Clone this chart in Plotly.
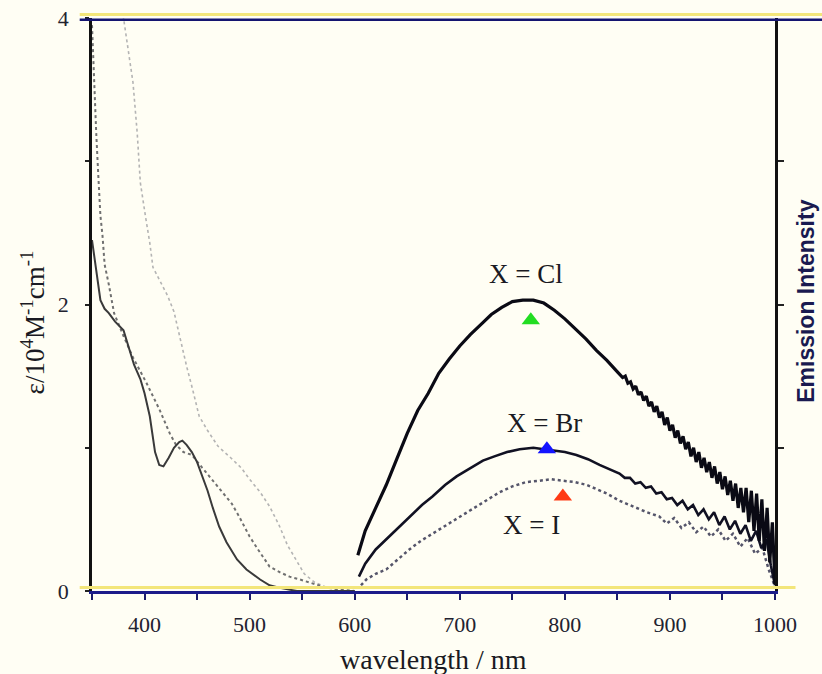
import plotly.graph_objects as go

# ---------------- data ----------------
# Absorption spectra (left axis, epsilon / 10^4 M^-1 cm^-1)
abs_solid_wl = [350, 353, 356, 358, 362, 366, 372, 380, 385, 390, 396, 400, 405, 410, 414, 418, 423, 428,
                433, 436, 440, 445, 450, 455, 460, 465, 471, 478, 488, 497, 510, 519, 530, 545, 600]
abs_solid_eps = [2.45, 2.30, 2.12, 2.03, 1.97, 1.94, 1.88, 1.82, 1.70, 1.58, 1.48, 1.38, 1.22, 0.97, 0.88, 0.87,
                 0.93, 1.00, 1.04, 1.05, 1.02, 0.97, 0.90, 0.80, 0.70, 0.58, 0.45, 0.34, 0.22, 0.15, 0.08, 0.04,
                 0.02, 0.0, 0.0]

abs_mid_wl = [350, 352, 354, 356, 358, 360, 362, 366, 371, 380, 389, 402, 414, 424, 430, 437, 445, 455, 465,
              473, 483, 490, 500, 508, 519, 529, 538, 548, 557, 570, 585, 600]
abs_mid_eps = [3.95, 3.55, 3.20, 2.90, 2.62, 2.48, 2.28, 2.14, 1.94, 1.78, 1.63, 1.45, 1.27, 1.10, 1.02, 0.97,
               0.95, 0.86, 0.77, 0.70, 0.61, 0.52, 0.38, 0.29, 0.17, 0.13, 0.10, 0.08, 0.06, 0.03, 0.01, 0.0]

abs_faint_wl = [378, 383, 386, 389, 393, 396, 401, 405, 408, 414, 422, 428, 434, 440, 446, 452, 460, 470, 482,
                492, 500, 510, 519, 528, 536, 545, 552, 562, 575, 590, 600]
abs_faint_eps = [4.10, 3.85, 3.72, 3.55, 3.20, 2.85, 2.61, 2.43, 2.26, 2.17, 2.06, 1.95, 1.75, 1.57, 1.40, 1.22,
                 1.12, 1.01, 0.93, 0.86, 0.78, 0.69, 0.59, 0.46, 0.32, 0.21, 0.12, 0.06, 0.02, 0.0, 0.0]

# Emission spectra (right axis, arbitrary units)
em_cl_wl = [603, 610, 620, 630, 640, 650, 660, 670, 680, 690, 700, 710, 720, 730, 740, 750, 760, 770, 780,
            790, 800, 810, 820, 830, 840, 850, 852.5, 855, 857.5, 860, 862.5, 865, 867.5, 870, 872.5, 875,
            877.5, 880, 882.5, 885, 887.5, 890, 892.5, 895, 897.5, 900, 902.5, 905, 907.5, 910, 912.5, 915,
            917.5, 920, 922.5, 925, 927.5, 930, 932.5, 935, 937.5, 940, 942.5, 945, 947.5, 950, 952.5, 955,
            957.5, 960, 962.5, 965, 967.5, 970, 972.5, 975, 977.5, 980, 982.5, 985, 987.5, 990, 992.5, 995,
            997.5, 1000]
em_cl_val = [0.25, 0.42, 0.58, 0.74, 0.92, 1.10, 1.26, 1.38, 1.52, 1.62, 1.71, 1.79, 1.86, 1.93, 1.98, 2.02,
             2.03, 2.03, 2.01, 1.96, 1.90, 1.83, 1.76, 1.68, 1.61, 1.53, 1.51, 1.49, 1.50, 1.45, 1.46, 1.41,
             1.43, 1.37, 1.39, 1.33, 1.36, 1.29, 1.32, 1.25, 1.29, 1.21, 1.25, 1.16, 1.21, 1.12, 1.16, 1.07,
             1.12, 1.03, 1.08, 0.99, 1.04, 0.94, 1.00, 0.90, 0.97, 0.86, 0.93, 0.83, 0.90, 0.79, 0.87, 0.75,
             0.83, 0.71, 0.80, 0.67, 0.77, 0.63, 0.75, 0.58, 0.72, 0.55, 0.72, 0.48, 0.70, 0.42, 0.68, 0.35,
             0.64, 0.28, 0.58, 0.20, 0.48, 0.05]

em_br_wl = [604, 610, 620, 627, 640, 652, 664, 674, 686, 697, 710, 722, 733, 745, 757, 770, 780, 789, 800,
            811, 822, 833, 843, 852, 857, 862, 867, 872, 877, 882, 887, 892, 897, 902, 907, 912, 917, 922, 927,
            932, 937, 942, 947, 952, 957, 962, 967, 972, 977, 982, 987, 992, 996, 1000]
em_br_val = [0.10, 0.19, 0.29, 0.34, 0.43, 0.52, 0.60, 0.66, 0.74, 0.80, 0.86, 0.91, 0.94, 0.97, 0.99, 1.00,
             0.99, 0.98, 0.97, 0.95, 0.92, 0.88, 0.85, 0.82, 0.79, 0.79, 0.75, 0.76, 0.72, 0.73, 0.68, 0.69,
             0.64, 0.65, 0.60, 0.63, 0.57, 0.60, 0.53, 0.57, 0.50, 0.55, 0.46, 0.52, 0.43, 0.49, 0.40, 0.46,
             0.35, 0.42, 0.30, 0.36, 0.18, 0.04]

em_i_wl = [606, 611, 620, 630, 641, 652, 663, 674, 687, 700, 713, 726, 738, 750, 763, 776, 787, 798, 810, 821,
           830, 840, 852, 865, 878, 890, 897, 904, 911, 918, 925, 932, 939, 946, 953, 960, 967, 974, 981, 988,
           994, 1000]
em_i_val = [0.04, 0.08, 0.12, 0.15, 0.22, 0.29, 0.35, 0.40, 0.46, 0.52, 0.58, 0.64, 0.69, 0.73, 0.76, 0.77,
            0.78, 0.77, 0.76, 0.74, 0.71, 0.68, 0.63, 0.59, 0.55, 0.52, 0.47, 0.51, 0.44, 0.48, 0.41, 0.45,
            0.38, 0.43, 0.35, 0.40, 0.31, 0.37, 0.26, 0.30, 0.15, 0.03]

# peak markers (triangles)
peak_labels = ["X = Cl", "X = Br", "X = I"]
peak_wl = [767.6, 782.9, 798.1]
peak_val = [1.89, 0.99, 0.66]
peak_colors = ["#22dd22", "#1414ff", "#ff3a14"]
label_wl = [762.9, 780.9, 768.6]
label_val = [2.21, 1.17, 0.46]

x_tickvals = [400, 500, 600, 700, 800, 900, 1000]
x_ticktext = ["400", "500", "600", "700", "800", "900", "1000"]
y_tickvals = [0, 2, 4]
y_ticktext = ["0", "2", "4"]

# ---------------- figure ----------------
SERIF = "Liberation Serif, Times New Roman, serif"
BG = "#fffef4"

fig = go.Figure()

fig.add_trace(go.Scatter(x=abs_faint_wl, y=abs_faint_eps, mode="lines",
                         line=dict(color="#b4b4b4", width=1.6, dash="dot"), showlegend=False))
fig.add_trace(go.Scatter(x=abs_mid_wl, y=abs_mid_eps, mode="lines",
                         line=dict(color="#707070", width=2, dash="dot"), showlegend=False))
fig.add_trace(go.Scatter(x=abs_solid_wl, y=abs_solid_eps, mode="lines",
                         line=dict(color="#3a3a3a", width=2), showlegend=False))

fig.add_trace(go.Scatter(x=em_i_wl, y=em_i_val, mode="lines", yaxis="y2",
                         line=dict(color="#55556a", width=2.5, dash="dot"), showlegend=False))
fig.add_trace(go.Scatter(x=em_br_wl, y=em_br_val, mode="lines", yaxis="y2",
                         line=dict(color="#111122", width=2.6), showlegend=False))
fig.add_trace(go.Scatter(x=em_cl_wl, y=em_cl_val, mode="lines", yaxis="y2",
                         line=dict(color="#0a0a14", width=3.2), showlegend=False))

fig.add_trace(go.Scatter(x=peak_wl, y=peak_val, mode="markers", yaxis="y2",
                         marker=dict(symbol="triangle-up", size=16, color=peak_colors, line=dict(width=0)),
                         showlegend=False))

for txt, xv, yv in zip(peak_labels, label_wl, label_val):
    fig.add_annotation(x=xv, y=yv, yref="y2", text=txt, showarrow=False,
                       font=dict(family=SERIF, size=27, color="#1a1a22"),
                       xanchor="center", yanchor="middle")

# axis titles
fig.add_annotation(xref="paper", yref="paper", x=-0.087, y=0.468, textangle=-90,
                   text="ε/10<sup>4</sup>M<sup>-1</sup>cm<sup>-1</sup>", showarrow=False,
                   font=dict(family=SERIF, size=27, color="#1a1a22"), xanchor="center", yanchor="middle")
fig.add_annotation(xref="paper", yref="paper", x=1.045, y=0.506, textangle=-90,
                   text="<b>Emission Intensity</b>", showarrow=False,
                   font=dict(family="Liberation Sans, Arial, sans-serif", size=23, color="#1a1a50"),
                   xanchor="center", yanchor="middle")
fig.add_annotation(xref="paper", yref="paper", x=0.5, y=-0.12,
                   text="wavelength / nm", showarrow=False,
                   font=dict(family=SERIF, size=28, color="#1a1a22"), xanchor="center", yanchor="middle")

# scan-like frame lines
fig.add_shape(type="line", xref="paper", yref="paper", x0=-0.018, x1=1.069, y0=1.006, y1=1.006,
              line=dict(color="#f3e67a", width=3))
fig.add_shape(type="line", xref="paper", yref="paper", x0=-0.018, x1=1.069, y0=0.997, y1=0.997,
              line=dict(color="#141470", width=2.5))
fig.add_shape(type="line", xref="paper", yref="paper", x0=-0.018, x1=1.03, y0=0.006, y1=0.006,
              line=dict(color="#f3e67a", width=3))

fig.update_layout(
    width=822, height=674,
    margin=dict(l=92, r=47, t=18, b=83, autoexpand=False),
    paper_bgcolor=BG, plot_bgcolor=BG,
    showlegend=False,
    xaxis=dict(range=[350, 1000], showgrid=False, zeroline=False, automargin=False,
               showline=True, linecolor="#1c1c8a", linewidth=2.5, mirror=False,
               ticks="outside", ticklen=6, tickwidth=2, tickcolor="#1c1c6a",
               tickvals=x_tickvals, ticktext=x_ticktext, ticklabelstandoff=6,
               minor=dict(dtick=50, tick0=350, ticks="outside", ticklen=6, tickwidth=2, tickcolor="#1c1c6a"),
               tickfont=dict(family=SERIF, size=22, color="#222230")),
    yaxis=dict(range=[0, 4], showgrid=False, zeroline=False, automargin=False,
               showline=True, linecolor="#111111", linewidth=2.5,
               ticks="outside", ticklen=4, tickwidth=2, tickcolor="#222222",
               tickvals=y_tickvals, ticktext=y_ticktext, ticklabelstandoff=12,
               minor=dict(dtick=1, tick0=0, ticks="outside", ticklen=4, tickwidth=2, tickcolor="#222222"),
               tickfont=dict(family=SERIF, size=22, color="#222230")),
    yaxis2=dict(range=[0, 4], overlaying="y", side="right", showgrid=False, zeroline=False, automargin=False,
                showline=True, linecolor="#111111", linewidth=2.5,
                ticks="outside", ticklen=6, tickwidth=2, tickcolor="#222222",
                tickvals=[1, 2, 3], showticklabels=False),
)

fig.write_html("out.html")
